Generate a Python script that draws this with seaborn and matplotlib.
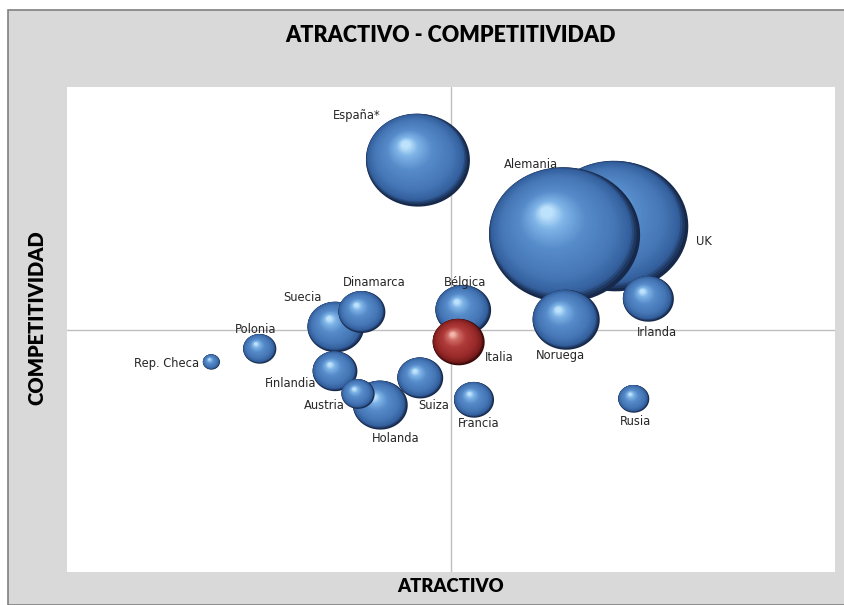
import numpy as np
import pandas as pd
import seaborn as sns
import matplotlib.pyplot as plt
from matplotlib.path import Path
from matplotlib.markers import MarkerStyle
from matplotlib.patches import Rectangle
from matplotlib.colors import LinearSegmentedColormap

sns.set_theme(style='white')
plt.rcParams['font.family'] = ['DejaVu Sans']

# datos (escala 0-10 en ambos ejes)
paises = ['UK', 'Alemania', 'España*', 'Noruega', 'Irlanda', 'Bélgica', 'Italia',
          'Suecia', 'Dinamarca', 'Finlandia', 'Holanda', 'Austria', 'Suiza',
          'Francia', 'Rusia', 'Polonia', 'Rep. Checa']
atractivo = [7.14, 6.48, 4.57, 6.50, 7.57, 5.16, 5.10,
             3.50, 3.84, 3.49, 4.08, 3.79, 4.60,
             5.30, 7.38, 2.51, 1.88]
competitividad = [7.13, 6.95, 8.49, 5.20, 5.63, 5.40, 4.74,
                  5.05, 5.36, 4.14, 3.44, 3.67, 4.00,
                  3.55, 3.57, 4.60, 4.33]
tamano = [213, 228, 108, 45, 26, 31, 27,
          32, 22, 20, 30, 11, 21,
          16, 9.6, 11, 2.9]
grupo = ['azul'] * 6 + ['rojo'] + ['azul'] * 10

# desplazamiento de las etiquetas (puntos)
etiq_dx = [64, -24, -44, -4, 6, 1, 29, -24, 9, -32, 11, -24, 10, 3, 1, -3, -32]
etiq_dy = [-11, 51, 32, -26, -24, 20, -11, 21, 21, -9, -24, -8, -20, -17, -16, 14, -1]

df = pd.DataFrame({'pais': paises, 'x': atractivo, 'y': competitividad,
                   'tam': tamano, 'grupo': grupo})

W, H = 844, 605
fig = plt.figure(figsize=(W / 100, H / 100), dpi=100)
fig.patch.set_facecolor('white')
fig.add_artist(Rectangle((8 / W, 0), 1 - 8 / W + 0.01, 1 - 10 / H,
                         transform=fig.transFigure, facecolor='#d9d9d9',
                         edgecolor='#808080', linewidth=1.2, zorder=0))

ax = fig.add_axes([67 / W, 33 / H, 768 / W, 485 / H])
ax.set_facecolor('white')
for s in ax.spines.values():
    s.set_visible(False)
ax.axvline(5, color='#bfbfbf', lw=1, zorder=0)
ax.axhline(5, color='#bfbfbf', lw=1, zorder=0)

# burbuja ligeramente ovalada
ASP = 1.12
th = np.linspace(0, 2 * np.pi, 80)
ovalo = MarkerStyle(Path(np.column_stack([0.5 * np.cos(th), 0.5 / ASP * np.sin(th)]),
                         closed=True))

cmaps = {
    'azul': LinearSegmentedColormap.from_list(
        'azul', [(0, '#17294a'), (0.07, '#335f9c'), (0.25, '#4575b4'),
                 (0.6, '#568bca'), (0.85, '#7db3e6'), (1, '#bde2fc')]),
    'rojo': LinearSegmentedColormap.from_list(
        'rojo', [(0, '#3a0909'), (0.07, '#7a1d1d'), (0.25, '#982a2a'),
                 (0.6, '#b03c3a'), (0.85, '#cf6d66'), (1, '#f3b6ad')]),
}

px_x = 768 / 10
px_y = 485 / 10
capas = np.linspace(0, 1, 44)
extra = 0.035 * (1 - np.exp(-capas / 0.03))   # sombra hacia abajo a la derecha

for _, r in df.iterrows():
    ancho = 10 * np.sqrt(r['tam'])          # ancho de la burbuja en px
    rx = ancho / 2 / px_x
    ry = ancho / ASP / 2 / px_y
    esc = 1 - 0.92 * capas
    d = pd.DataFrame({
        'xs': r['x'] - (0.20 * capas + extra) * rx,
        'ys': r['y'] + (0.30 * capas + extra) * ry,
        'capa': np.arange(len(capas)),
    })
    pal = [cmaps[r['grupo']](t) for t in capas]
    sns.scatterplot(data=d, x='xs', y='ys', hue='capa', palette=pal,
                    s=(ancho * 72 / 100 * esc) ** 2, marker=ovalo, linewidth=0,
                    edgecolor='none', legend=False, ax=ax, zorder=2)

ax.set_xlim(0, 10)
ax.set_ylim(0, 10)
ax.set_xticks([])
ax.set_yticks([])
ax.set_xlabel('')
ax.set_ylabel('')

for i, r in df.iterrows():
    ax.annotate(r['pais'], (r['x'], r['y']), xytext=(etiq_dx[i], etiq_dy[i]),
                textcoords='offset points', ha='center', va='center',
                fontsize=8.3, color='#262626', zorder=5)

fig.text(451 / W, 1 - 35 / H, 'ATRACTIVO - COMPETITIVIDAD', ha='center',
         va='center', fontsize=15.5, fontweight='heavy', family='Lato', color='black')
fig.text(451 / W, 1 - 587 / H, 'ATRACTIVO', ha='center', va='center',
         fontsize=13.3, fontweight='heavy', family='Lato', color='black')
fig.text(37 / W, 1 - 318 / H, 'COMPETITIVIDAD', ha='center', va='center',
         rotation=90, fontsize=14.5, fontweight='heavy', family='Lato', color='black')

plt.savefig('out.png', dpi=100)
plt.close()
